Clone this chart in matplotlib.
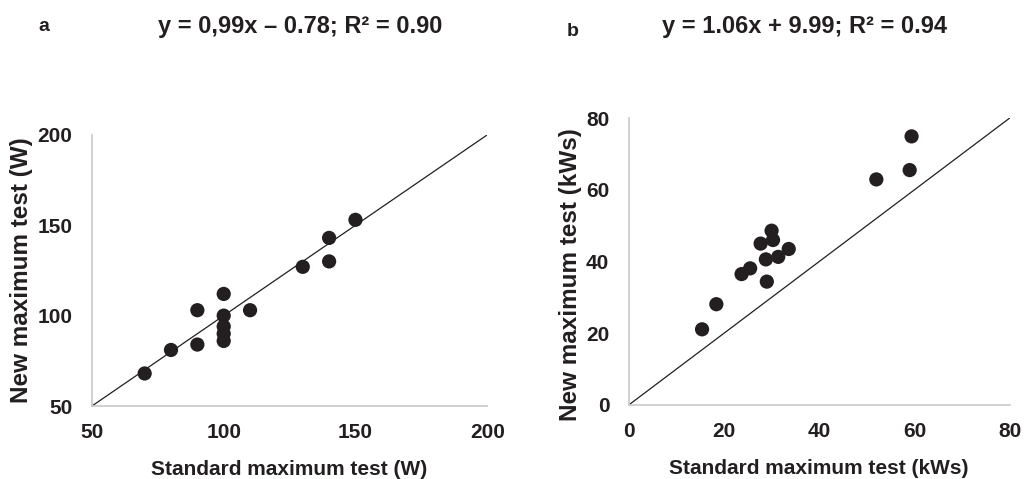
"""Scatter of new vs standard maximum test, power (a) and work (b)."""

import matplotlib
matplotlib.use('Agg')
import matplotlib.pyplot as plt

plt.rcParams['font.family'] = ['Liberation Sans', 'DejaVu Sans']
plt.rcParams['font.weight'] = 'bold'
plt.rcParams['axes.labelweight'] = 'bold'

# panel a: peak power (W)
power_std = [70, 80, 90, 90, 100, 100, 100, 100, 100, 110, 130, 140, 140, 150]
power_new = [68, 81, 84, 103, 112, 100, 94, 90, 86, 103, 127, 130, 143, 153]

# panel b: work (kWs)
work_std = [15.4, 18.4, 23.7, 25.5, 27.7, 30.0, 30.3, 28.8, 31.4, 33.6, 29.0, 52.0, 59.0, 59.4]
work_new = [21.1, 28.1, 36.5, 38.1, 45.0, 48.6, 46.0, 40.6, 41.3, 43.5, 34.4, 62.9, 65.5, 74.9]

ticks_a = [50, 100, 150, 200]
ticks_b = [0, 20, 40, 60, 80]

TXT = '#231f20'

fig = plt.figure(figsize=(10.24, 4.79), dpi=100)
ax_a = fig.add_axes([0.0898, 0.1524, 0.386, 0.566])
ax_b = fig.add_axes([0.614, 0.1545, 0.372, 0.599])

panels = [
    (ax_a, power_std, power_new, ticks_a, 'Standard maximum test (W)',
     'New maximum test (W)', 0.5),
    (ax_b, work_std, work_new, ticks_b, 'Standard maximum test (kWs)',
     'New maximum test (kWs)', 0.455),
]
for ax, x, y, ticks, xlabel, ylabel, ymid in panels:
    lo, hi = ticks[0], ticks[-1]
    ax.plot([lo, hi], [lo, hi], color='#231f20', lw=0.9, zorder=1)
    ax.scatter(x, y, s=105, color='#231f20', edgecolors='none', zorder=2, clip_on=False)
    ax.set_xlim(lo, hi)
    ax.set_ylim(lo, hi)
    ax.set_xticks(ticks)
    ax.set_yticks(ticks)
    ax.tick_params(length=0, labelsize=15, colors=TXT)
    ax.tick_params(axis='x', pad=12)
    ax.tick_params(axis='y', pad=14)
    for spine in ('top', 'right'):
        ax.spines[spine].set_visible(False)
    for spine in ('left', 'bottom'):
        ax.spines[spine].set_color('#c8c8c8')
        ax.spines[spine].set_linewidth(1.2)
    ax.set_xlabel(xlabel, fontsize=15, color=TXT, labelpad=13)
    ax.set_ylabel(ylabel, fontsize=17.5, color=TXT, labelpad=3)
    ax.yaxis.label.set_y(ymid)

fig.text(0.037, 0.945, 'a', fontsize=14, color=TXT, ha='left', va='center')
fig.text(0.293, 0.945, 'y = 0,99x \u2013 0.78; R\u00b2 = 0.90', fontsize=17,
         color=TXT, ha='center', va='center')
fig.text(0.553, 0.935, 'b', fontsize=14, color=TXT, ha='left', va='center')
fig.text(0.786, 0.945, 'y = 1.06x + 9.99; R\u00b2 = 0.94', fontsize=17,
         color=TXT, ha='center', va='center')

fig.savefig('out.png', dpi=100)
